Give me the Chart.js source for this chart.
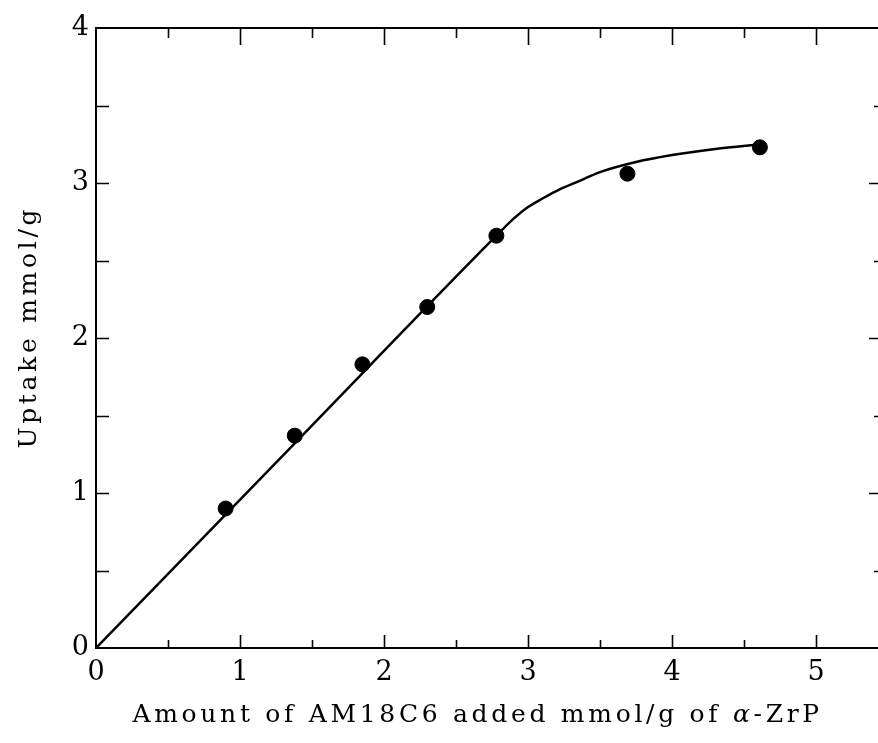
<!DOCTYPE html>
<html lang="en">
<head>
  <meta charset="UTF-8">
  <title>Uptake of AM18C6 by α-ZrP</title>
  <style>
    html, body {
      margin: 0;
      padding: 0;
      background: #ffffff;
    }
    #wrap {
      width: 878px;
      height: 743px;
    }
  </style>
</head>
<body>
  <div id="wrap">
    <canvas id="uptakeChart" width="878" height="743"></canvas>
  </div>

  <script src="https://cdn.jsdelivr.net/npm/chart.js"></script>
  <script>
    // measured points (amount added vs uptake, mmol/g)
    const addedX = [0.90, 1.38, 1.85, 2.30, 2.78, 3.69, 4.61];
    const uptakeY = [0.90, 1.37, 1.83, 2.20, 2.66, 3.06, 3.23];

    // drawn-in curve through the points
    const curveX = [0, 1.40, 2.78, 2.90, 3.00, 3.10, 3.20, 3.35, 3.50, 3.75, 4.00, 4.30, 4.62];
    const curveY = [0, 1.34, 2.66, 2.77, 2.845, 2.90, 2.95, 3.01, 3.07, 3.135, 3.18, 3.22, 3.25];

    // axis labels and tick marks
    const xTickLabels = [0, 1, 2, 3, 4, 5];
    const yTickLabels = [0, 1, 2, 3, 4];
    const xMarks = [0.5, 1, 1.5, 2, 2.5, 3, 3.5, 4, 4.5, 5];
    const yMarks = [0.5, 1, 1.5, 2, 2.5, 3, 3.5];

    const xTitle = ['Amount of AM18C6 added mmol/g of ', 'α', '-ZrP'];
    const yTitle = 'Uptake mmol/g';

    const serif = "'DejaVu Serif', 'Liberation Serif', serif";

    const frame = {
      id: 'frame',
      afterDraw(chart) {
        const { ctx, chartArea: a, scales: { x, y } } = chart;
        ctx.save();
        ctx.strokeStyle = '#000';
        ctx.lineWidth = 2;
        ctx.beginPath();
        ctx.moveTo(a.right, a.top);
        ctx.lineTo(a.left, a.top);
        ctx.lineTo(a.left, a.bottom);
        ctx.lineTo(a.right, a.bottom);
        ctx.stroke();

        ctx.lineWidth = 1.6;
        ctx.beginPath();
        xMarks.forEach(v => {
          const px = Math.round(x.getPixelForValue(v)) + 0.5;
          const major = Number.isInteger(v);
          ctx.moveTo(px, a.bottom);
          ctx.lineTo(px, a.bottom - (major ? 13 : 8));
          ctx.moveTo(px, a.top);
          ctx.lineTo(px, a.top + (major ? 17 : 10));
        });
        yMarks.forEach(v => {
          const py = Math.round(y.getPixelForValue(v)) + 0.5;
          const major = Number.isInteger(v);
          ctx.moveTo(a.left, py);
          ctx.lineTo(a.left + 13, py);
          ctx.moveTo(a.right, py);
          ctx.lineTo(a.right - (major ? 9 : 4), py);
        });
        ctx.stroke();

        // axis titles
        ctx.fillStyle = '#000';
        ctx.letterSpacing = '3.7px';
        ctx.textBaseline = 'alphabetic';
        ctx.textAlign = 'left';
        const normal = '25px ' + serif;
        const italic = 'italic 25px ' + serif;
        const fonts = [normal, italic, normal];
        let total = 0;
        xTitle.forEach((t, i) => {
          ctx.font = fonts[i];
          total += ctx.measureText(t).width;
        });
        let tx = x.getPixelForValue(2.65) - total / 2;
        xTitle.forEach((t, i) => {
          ctx.font = fonts[i];
          ctx.fillText(t, tx, 722);
          tx += ctx.measureText(t).width;
        });

        ctx.font = normal;
        ctx.translate(36, y.getPixelForValue(2.07));
        ctx.rotate(-Math.PI / 2);
        ctx.textAlign = 'center';
        ctx.fillText(yTitle, 0, 0);
        ctx.restore();
      }
    };

    new Chart(document.getElementById('uptakeChart'), {
      type: 'scatter',
      data: {
        datasets: [
          {
            label: 'curve',
            data: curveX.map((v, i) => ({ x: v, y: curveY[i] })),
            showLine: true,
            borderColor: '#000',
            borderWidth: 2.5,
            pointRadius: 0,
            cubicInterpolationMode: 'monotone',
            fill: false
          },
          {
            label: 'uptake',
            data: addedX.map((v, i) => ({ x: v, y: uptakeY[i] })),
            backgroundColor: '#000',
            borderColor: '#000',
            pointRadius: 7.5,
            pointHoverRadius: 7.5
          }
        ]
      },
      options: {
        responsive: false,
        animation: false,
        devicePixelRatio: 1,
        layout: {
          autoPadding: false,
          padding: { top: 28, right: 0, left: 0, bottom: 0 }
        },
        plugins: {
          legend: { display: false },
          tooltip: { enabled: false }
        },
        scales: {
          x: {
            type: 'linear',
            min: 0,
            max: 5.43,
            grid: { display: false, drawTicks: false },
            border: { display: false },
            afterFit(scale) {
              scale.height = 95;
              scale.paddingRight = 0;
              scale.paddingLeft = 0;
            },
            afterBuildTicks(scale) {
              scale.ticks = xTickLabels.map(v => ({ value: v }));
            },
            ticks: {
              padding: 9,
              color: '#000',
              font: { family: serif, size: 27 },
              maxRotation: 0
            }
          },
          y: {
            type: 'linear',
            min: 0,
            max: 4,
            grid: { display: false, drawTicks: false },
            border: { display: false },
            afterFit(scale) {
              scale.width = 96;
              scale.paddingTop = 0;
              scale.paddingBottom = 0;
            },
            afterBuildTicks(scale) {
              scale.ticks = yTickLabels.map(v => ({ value: v }));
            },
            ticks: {
              padding: 7,
              color: '#000',
              font: { family: serif, size: 27 }
            }
          }
        }
      },
      plugins: [frame]
    });
  </script>
</body>
</html>
